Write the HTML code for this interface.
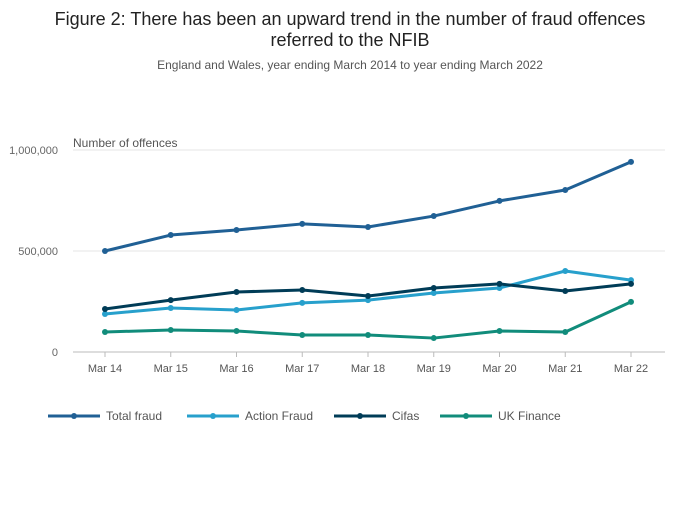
<!DOCTYPE html>
<html><head><meta charset="utf-8"><style>
body{margin:0;background:#fff;font-family:"Liberation Sans",sans-serif;}
</style></head><body>
<svg id="chart" width="700" height="502" xmlns="http://www.w3.org/2000/svg" font-family="Liberation Sans, sans-serif">
<text x="350" y="25" text-anchor="middle" font-size="18" fill="#222">Figure 2: There has been an upward trend in the number of fraud offences</text>
<text x="350" y="46" text-anchor="middle" font-size="18" fill="#222">referred to the NFIB</text>
<text x="350" y="69" text-anchor="middle" font-size="12" fill="#555">England and Wales, year ending March 2014 to year ending March 2022</text>
<text x="73" y="147" font-size="12" fill="#555">Number of offences</text>
<g id="grid"></g><g id="series"></g><g id="legend"></g>
</svg>
<script>
const categories=["Mar 14","Mar 15","Mar 16","Mar 17","Mar 18","Mar 19","Mar 20","Mar 21","Mar 22"];
const yTicks=[0,500000,1000000];
const yTickLabels=["0","500,000","1,000,000"];
const seriesNames=["Total fraud","Action Fraud","Cifas","UK Finance"];
const totalFraud=[500000,579000,604000,634000,619000,673000,748000,802000,941000];
const actionFraud=[188000,218000,208000,243000,257000,292000,317000,401000,356000];
const cifas=[213000,257000,297000,307000,277000,317000,337000,302000,337000];
const ukFinance=[99000,109000,104000,84000,84000,69000,104000,99000,248000];
const colors=["#206095","#27a0cc","#003c57","#118c7b"];
const NS="http://www.w3.org/2000/svg";
const x=i=>105+i*(631-105)/(categories.length-1);
const y=v=>352-v*(352-150)/1000000;
function mk(t,a,p){const e=document.createElementNS(NS,t);for(const k in a)e.setAttribute(k,a[k]);p.appendChild(e);return e;}
const grid=document.getElementById('grid');
yTicks.forEach((v,i)=>{
 const l=mk('line',{x1:73,x2:665,y1:y(v),y2:y(v),stroke:i==0?'#bbb':'#e4e4e4'},grid);
 
 
 const t=mk('text',{x:58,y:y(v)+4,'text-anchor':'end','font-size':11,fill:'#666'},grid);t.textContent=yTickLabels[i];
 
 
});
categories.forEach((c,i)=>{
 const tk=mk('line',{x1:x(i),x2:x(i),y1:352,y2:357,stroke:'#bbb'},grid);
 
 
 const t=mk('text',{x:x(i),y:372,'text-anchor':'middle','font-size':11,fill:'#555'},grid);t.textContent=c;
 
 
});
const sg=document.getElementById('series');
[totalFraud,actionFraud,cifas,ukFinance].forEach((d,s)=>{
 const g=mk('g',{},sg);
 
 
 const p=mk('polyline',{points:d.map((v,i)=>x(i)+','+y(v)).join(' '),fill:'none',stroke:colors[s],'stroke-width':3,'stroke-linejoin':'round'},g);
 
 
 d.forEach((v,i)=>{const c=mk('circle',{cx:x(i),cy:y(v),r:3,fill:colors[s]},g);
 
 });
});
const lg=document.getElementById('legend');
const lx=[48,187,334,440];
seriesNames.forEach((n,s)=>{
 const g=mk('g',{},lg);
 
 
 mk('line',{x1:lx[s],x2:lx[s]+52,y1:416,y2:416,stroke:colors[s],'stroke-width':3},g);
 mk('circle',{cx:lx[s]+26,cy:416,r:3,fill:colors[s]},g);
 const t=mk('text',{x:lx[s]+58,y:420,'font-size':12,fill:'#555'},g);t.textContent=n;
});
</script>
</body></html>
